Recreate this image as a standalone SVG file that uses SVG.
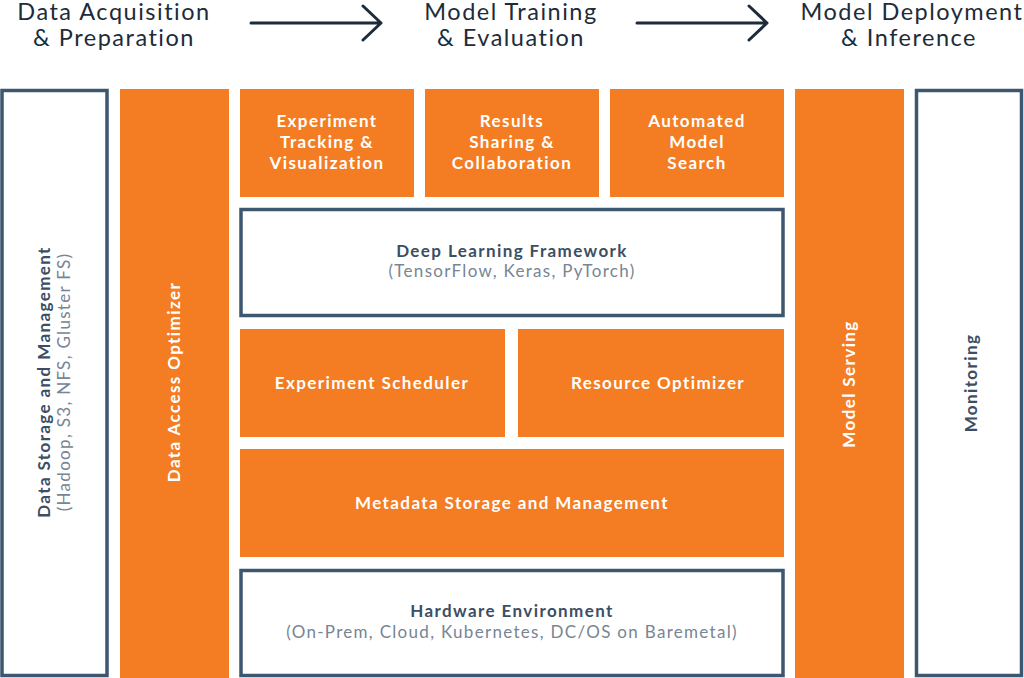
<svg xmlns="http://www.w3.org/2000/svg" width="1024" height="678" viewBox="0 0 1024 678">
<style>
.hdr{font-family:Lato,"Liberation Sans",sans-serif;font-size:23.5px;letter-spacing:1.5px;fill:#1e2b38;text-anchor:middle}
.org{fill:#f47c22}
.box{fill:#fff;stroke:#3e5770;stroke-width:3.5}
.wt{font-family:Lato,"Liberation Sans",sans-serif;font-size:17px;letter-spacing:1.4px;font-weight:bold;fill:#fff;text-anchor:middle}
.dt{font-family:Lato,"Liberation Sans",sans-serif;font-size:17px;letter-spacing:1.4px;font-weight:bold;fill:#3c4e63;text-anchor:middle}
.st{font-family:Lato,"Liberation Sans",sans-serif;font-size:17px;letter-spacing:1.3px;fill:#778594;text-anchor:middle}
.arr{fill:none;stroke:#1d2b3a;stroke-width:3;stroke-linecap:round;stroke-linejoin:round}
</style>
<rect width="1024" height="678" fill="#fff"/>
<g id="stages">
<text class="hdr" x="114" y="20">Data Acquisition</text>
<text class="hdr" x="114" y="46">&amp; Preparation</text>
<text class="hdr" x="511" y="20">Model Training</text>
<text class="hdr" x="511" y="46">&amp; Evaluation</text>
<text class="hdr" x="912" y="20">Model Deployment</text>
<text class="hdr" x="909" y="46">&amp; Inference</text>
</g>
<g id="connectors">
<path class="arr" d="M251 23 H381 M363 6 L381 23 L363 40"/>
<path class="arr" d="M637 23 H767 M749 6 L767 23 L749 40"/>
</g>
<g id="data-storage">
<rect class="box" x="2" y="90.5" width="105" height="585"/>
<text class="dt" transform="translate(50 382) rotate(-90)">Data Storage and Management</text>
<text class="st" transform="translate(70 382) rotate(-90)">(Hadoop, S3, NFS, Gluster FS)</text>
</g>
<g id="data-access-optimizer">
<rect class="org" x="120" y="89" width="109" height="589"/>
<text class="wt" transform="translate(180 382) rotate(-90)">Data Access Optimizer</text>
</g>
<g id="experiment-tracking">
<rect class="org" x="240" y="89" width="174" height="108"/>
<text class="wt" x="327" y="127">Experiment</text>
<text class="wt" x="327" y="148">Tracking &amp;</text>
<text class="wt" x="327" y="169">Visualization</text>
</g>
<g id="results-sharing">
<rect class="org" x="425" y="89" width="174" height="108"/>
<text class="wt" x="512" y="127">Results</text>
<text class="wt" x="512" y="148">Sharing &amp;</text>
<text class="wt" x="512" y="169">Collaboration</text>
</g>
<g id="automated-model-search">
<rect class="org" x="610" y="89" width="174" height="108"/>
<text class="wt" x="697" y="127">Automated</text>
<text class="wt" x="697" y="148">Model</text>
<text class="wt" x="697" y="169">Search</text>
</g>
<g id="deep-learning-framework">
<rect class="box" x="241" y="209.5" width="542" height="106"/>
<text class="dt" x="512" y="257">Deep Learning Framework</text>
<text class="st" x="512" y="277">(TensorFlow, Keras, PyTorch)</text>
</g>
<g id="experiment-scheduler">
<rect class="org" x="240" y="329" width="265" height="108"/>
<text class="wt" x="372" y="389">Experiment Scheduler</text>
</g>
<g id="resource-optimizer">
<rect class="org" x="518" y="329" width="266" height="108"/>
<text class="wt" x="658" y="389">Resource Optimizer</text>
</g>
<g id="metadata-storage">
<rect class="org" x="240" y="449" width="544" height="108"/>
<text class="wt" x="512" y="509">Metadata Storage and Management</text>
</g>
<g id="hardware-environment">
<rect class="box" x="241" y="570.5" width="542" height="105"/>
<text class="dt" x="512" y="617">Hardware Environment</text>
<text class="st" x="512" y="638">(On-Prem, Cloud, Kubernetes, DC/OS on Baremetal)</text>
</g>
<g id="model-serving">
<rect class="org" x="795" y="89" width="109" height="589"/>
<text class="wt" transform="translate(855 384) rotate(-90)">Model Serving</text>
</g>
<g id="monitoring">
<rect class="box" x="916.5" y="90.5" width="105" height="585"/>
<text class="dt" transform="translate(977 383) rotate(-90)">Monitoring</text>
</g>
</svg>
